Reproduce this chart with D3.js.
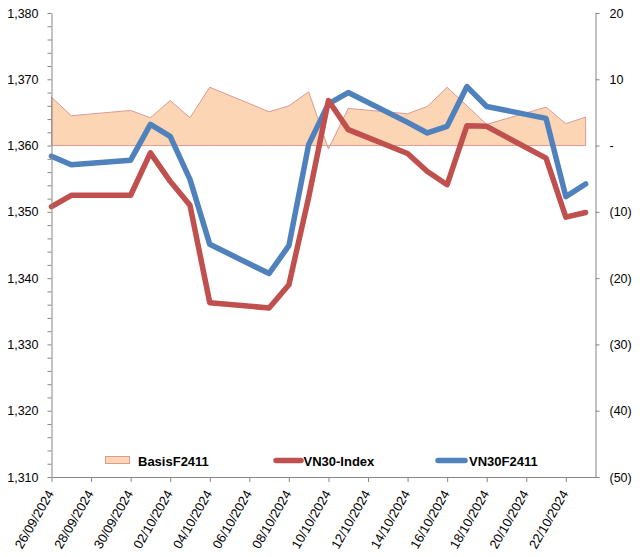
<!DOCTYPE html>
<html>
<head>
<meta charset="utf-8">
<script src="https://cdn.jsdelivr.net/npm/d3@7"></script>
<style>
  html, body { margin: 0; padding: 0; background: #fff; }
  svg { display: block; font-family: "Liberation Sans", Arial, sans-serif; }
</style>
</head>
<body>
<svg id="chart" width="640" height="557"></svg>
<script>
// ---- data ----
const dates = ["26/09/2024","27/09/2024","30/09/2024","01/10/2024","02/10/2024","03/10/2024","04/10/2024",
  "07/10/2024","08/10/2024","09/10/2024","10/10/2024","11/10/2024","14/10/2024","15/10/2024",
  "16/10/2024","17/10/2024","18/10/2024","21/10/2024","22/10/2024","23/10/2024"];
const vn30Index = [1350.8, 1352.5, 1352.5, 1358.9, 1354.6, 1351.0, 1336.3, 1335.5, 1339.0, 1352.2,
  1366.8, 1362.4, 1358.8, 1356.1, 1354.1, 1363.0, 1362.9, 1358.1, 1349.2, 1349.9];
const vn30F2411 = [1358.4, 1357.1, 1357.8, 1363.2, 1361.4, 1354.9, 1345.1, 1340.7, 1344.9, 1360.15,
  1366.3, 1368.0, 1363.5, 1361.9, 1362.9, 1368.9, 1365.9, 1364.1, 1352.3, 1354.2];
const basisF2411 = [7.3, 4.5, 5.3, 4.2, 6.8, 4.2, 8.8, 5.1, 6.0, 8.1,
  -0.5, 5.6, 4.8, 5.9, 8.8, 6.0, 3.2, 5.8, 3.3, 4.3];
const xTickLabels = ["26/09/2024","28/09/2024","30/09/2024","02/10/2024","04/10/2024","06/10/2024",
  "08/10/2024","10/10/2024","12/10/2024","14/10/2024","16/10/2024","18/10/2024","20/10/2024","22/10/2024"];
const leftTicks = [1310, 1320, 1330, 1340, 1350, 1360, 1370, 1380];
const rightTicks = [-50, -40, -30, -20, -10, 0, 10, 20];
const seriesNames = ["BasisF2411", "VN30-Index", "VN30F2411"];

(function () {
// ---- layout ----
const parse = d3.utcParse("%d/%m/%Y");
const fmtDate = d3.utcFormat("%d/%m/%Y");
const pLeft = 51.5, pRight = 595.5, pTop = 13, pBottom = 477;
const colors = { basisFill: "#FCD5B5", basisStroke: "#D99A94", red: "#C0504D", blue: "#4F81BD", axis: "#868686" };

const t0 = parse(dates[0]);
const tEnd = new Date(t0.getTime() + 27.5 * 86400000);
const x = d3.scaleUtc().domain([t0, tEnd]).range([pLeft, pRight]);
const yL = d3.scaleLinear().domain([1310, 1380]).range([pBottom, pTop]);
const yR = d3.scaleLinear().domain([-50, 20]).range([pBottom, pTop]);

const rows = dates.map((d, i) => ({ t: parse(d), v: vn30Index[i], f: vn30F2411[i], b: basisF2411[i] }));

const svg = d3.select("#chart");
svg.append("rect").attr("width", 640).attr("height", 557).attr("fill", "#fff");

// area (secondary axis)
svg.append("path").datum(rows)
  .attr("d", d3.area().x(d => x(d.t)).y0(yR(0)).y1(d => yR(d.b)))
  .attr("fill", colors.basisFill).attr("stroke", colors.basisStroke).attr("stroke-width", 1)
  .attr("stroke-linejoin", "miter");

// lines
const lineF = d3.line().x(d => x(d.t)).y(d => yL(d.f));
const lineV = d3.line().x(d => x(d.t)).y(d => yL(d.v));
svg.append("path").datum(rows).attr("d", lineF).attr("fill", "none")
  .attr("stroke", colors.blue).attr("stroke-width", 5.5).attr("stroke-linejoin", "round").attr("stroke-linecap", "round");
svg.append("path").datum(rows).attr("d", lineV).attr("fill", "none")
  .attr("stroke", colors.red).attr("stroke-width", 5.5).attr("stroke-linejoin", "round").attr("stroke-linecap", "round");

// left axis
const minorLeft = d3.range(1310, 1381, 2);
const gL = svg.append("g").attr("transform", `translate(${pLeft},0)`)
  .call(d3.axisLeft(yL).tickValues(minorLeft).tickSize(4).tickSizeOuter(0).tickPadding(9)
    .tickFormat(d => leftTicks.includes(d) ? d3.format(",")(d) : ""));
// right axis
const fmtR = d => d === 0 ? "-" : (d < 0 ? "(" + Math.abs(d) + ")" : String(d));
const gR = svg.append("g").attr("transform", `translate(${pRight},0)`)
  .call(d3.axisRight(yR).tickValues(rightTicks).tickSize(4).tickSizeOuter(0).tickPadding(10).tickFormat(fmtR));
// bottom axis
const gB = svg.append("g").attr("transform", `translate(0,${pBottom})`)
  .call(d3.axisBottom(x).tickValues(xTickLabels.map(parse)).tickSize(5).tickSizeOuter(0).tickFormat(fmtDate));

[gL, gR, gB].forEach(g => {
  g.selectAll("path.domain").attr("stroke", colors.axis);
  g.selectAll("line").attr("stroke", colors.axis);
  g.selectAll("text").attr("fill", "#000").attr("font-size", "12.5px")
    .attr("font-family", "'Liberation Sans', Arial, sans-serif");
});
gB.selectAll("text")
  .attr("font-size", "13px")
  .attr("text-anchor", "end")
  .attr("transform", "translate(1.5,9) rotate(-60)")
  .attr("dx", "0").attr("dy", "0.35em").attr("y", 0).attr("x", -6);

// legend
const legend = svg.append("g").attr("font-family", "'Liberation Sans', Arial, sans-serif")
  .attr("font-size", "13px").attr("font-weight", "bold");
legend.append("rect").attr("x", 105.5).attr("y", 456.5).attr("width", 24).attr("height", 7)
  .attr("fill", colors.basisFill).attr("stroke", colors.basisStroke);
legend.append("text").attr("x", 138).attr("y", 465.5).text(seriesNames[0]);
legend.append("line").attr("x1", 276).attr("x2", 301).attr("y1", 460.5).attr("y2", 460.5)
  .attr("stroke", colors.red).attr("stroke-width", 5.5).attr("stroke-linecap", "round");
legend.append("text").attr("x", 303.5).attr("y", 465.5).text(seriesNames[1]);
legend.append("line").attr("x1", 438).attr("x2", 465).attr("y1", 460.5).attr("y2", 460.5)
  .attr("stroke", colors.blue).attr("stroke-width", 5.5).attr("stroke-linecap", "round");
legend.append("text").attr("x", 469).attr("y", 465.5).text(seriesNames[2]);
})();
</script>
</body>
</html>
